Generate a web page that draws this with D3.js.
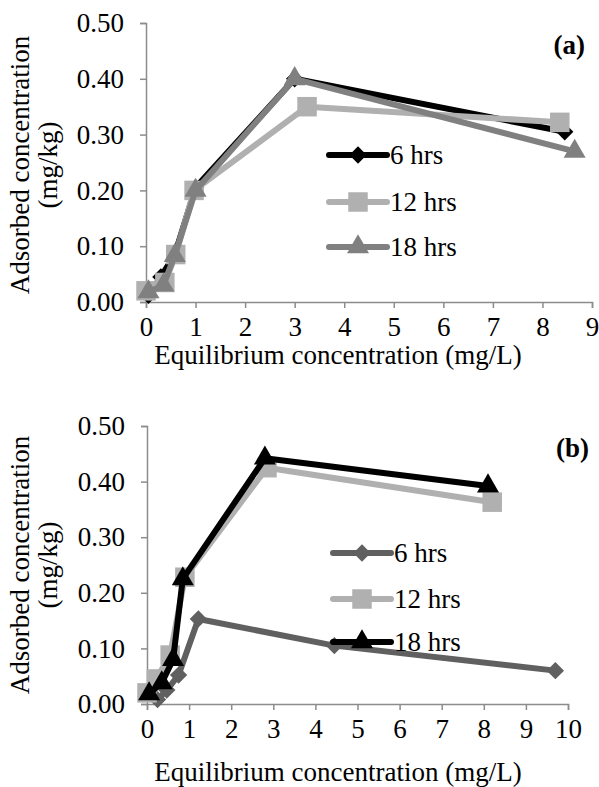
<!DOCTYPE html>
<html>
<head>
<meta charset="utf-8">
<script src="https://cdn.jsdelivr.net/npm/d3@7"></script>
</head>
<body style="margin:0">
<script>
const W = 599, H = 787;
const FONT = '"Liberation Serif"';

// series names
const seriesNames = ["6 hrs", "12 hrs", "18 hrs"];

// panel (a) data: [x, y]
const a6 = [[0.05, 0.012], [0.3, 0.045], [0.58, 0.085], [1.0, 0.205], [3.0, 0.40], [8.45, 0.305]];
const a12 = [[0.0, 0.02], [0.38, 0.035], [0.6, 0.085], [0.97, 0.20], [3.25, 0.35], [8.35, 0.322]];
const a18 = [[0.05, 0.018], [0.35, 0.03], [0.58, 0.083], [1.0, 0.20], [3.0, 0.40], [8.65, 0.27]];

// panel (b) data: [x, y]
const b6 = [[0.25, 0.008], [0.47, 0.025], [0.75, 0.052], [1.22, 0.153], [4.45, 0.105], [9.7, 0.06]];
const b12 = [[0.0, 0.02], [0.22, 0.045], [0.55, 0.088], [0.9, 0.228], [2.85, 0.425], [8.2, 0.363]];
const b18 = [[0.05, 0.018], [0.35, 0.038], [0.62, 0.08], [0.85, 0.225], [2.8, 0.442], [8.1, 0.392]];

const yTicks = [0, 0.1, 0.2, 0.3, 0.4, 0.5];
const xTicksA = d3.range(0, 10);
const xTicksB = d3.range(0, 11);

const svg = d3.select("body").append("svg")
  .attr("width", W).attr("height", H);

function symbolPath(shape, size) {
  const t = shape === "square" || shape === "diamond" ? d3.symbolSquare : d3.symbolTriangle;
  return d3.symbol().type(t).size(size)();
}
// diamonds are squares turned 45 degrees
const rot = shape => shape === "diamond" ? " rotate(45)" : "";

function panel(opt) {
  const x = d3.scaleLinear().domain([0, opt.xMax]).range([opt.x0, opt.x1]);
  const y = d3.scaleLinear().domain([0, 0.5]).range([opt.y0, opt.y1]);

  const g = svg.append("g");

  // x axis
  const gx = g.append("g")
    .attr("transform", `translate(0,${opt.y0})`)
    .call(d3.axisBottom(x).tickValues(opt.xTicks).tickSize(6).tickPadding(opt.xPad).tickFormat(d3.format("d")));
  // y axis
  const gy = g.append("g")
    .attr("transform", `translate(${opt.x0},0)`)
    .call(d3.axisLeft(y).tickValues(yTicks).tickSize(6).tickPadding(16).tickFormat(d3.format(".2f")));

  [gx, gy].forEach(a => {
    a.attr("font-family", null).attr("font-size", null);
    a.select(".domain").attr("stroke", "#8c8c8c").attr("stroke-width", 1.5);
    a.selectAll(".tick line").attr("stroke", "#8c8c8c").attr("stroke-width", 1.5);
    a.selectAll(".tick text")
      .attr("fill", "#000")
      .attr("font-size", 27)
      .style("font-family", FONT);
  });

  // axis titles
  g.append("text")
    .attr("x", opt.xTitleX).attr("y", opt.xTitleY)
    .attr("text-anchor", "middle")
    .attr("font-size", 27)
    .style("font-family", FONT)
    .text("Equilibrium concentration (mg/L)");

  const yt = g.append("text")
    .attr("transform", `translate(${opt.yTitleX},${opt.yTitleY}) rotate(-90)`)
    .attr("text-anchor", "middle")
    .attr("font-size", 27)
    .style("font-family", FONT);
  yt.append("tspan").attr("x", 0).attr("dy", 0).text("Adsorbed concentration");
  yt.append("tspan").attr("x", 0).attr("dy", 28).text("(mg/kg)");

  // panel label
  g.append("text")
    .attr("x", opt.labelX).attr("y", opt.labelY)
    .attr("text-anchor", "end")
    .attr("font-size", 27)
    .attr("font-weight", "bold")
    .style("font-family", FONT)
    .text(opt.label);

  const line = d3.line().x(d => x(d[0])).y(d => y(d[1]));

  opt.series.forEach(s => {
    g.append("path")
      .datum(s.data)
      .attr("d", line)
      .attr("fill", "none")
      .attr("stroke", s.color)
      .attr("stroke-width", 6)
      .attr("stroke-linejoin", "round");
    g.selectAll(null)
      .data(s.data)
      .enter()
      .append("path")
      .attr("d", symbolPath(s.shape, s.size))
      .attr("transform", d => `translate(${x(d[0])},${y(d[1])})${rot(s.shape)}`)
      .attr("fill", s.color);
  });

  // legend
  opt.series.forEach((s, i) => {
    const ly = opt.legY[i];
    g.append("line")
      .attr("x1", opt.legX).attr("x2", opt.legX + 58)
      .attr("y1", ly).attr("y2", ly)
      .attr("stroke", s.color).attr("stroke-width", 6)
      .attr("stroke-linecap", "round");
    g.append("path")
      .attr("d", symbolPath(s.shape, s.size))
      .attr("transform", `translate(${opt.legX + 29},${ly})${rot(s.shape)}`)
      .attr("fill", s.color);
    g.append("text")
      .attr("x", opt.legX + 61).attr("y", ly + 9)
      .attr("font-size", 27)
      .style("font-family", FONT)
      .text(seriesNames[i]);
  });
}

panel({
  xMax: 9, xTicks: xTicksA, xPad: 9,
  x0: 146, x1: 592, y0: 302, y1: 23,
  xTitleX: 338, xTitleY: 364,
  yTitleX: 29, yTitleY: 165,
  label: "(a)", labelX: 585, labelY: 54,
  legX: 329, legY: [155, 202, 247],
  series: [
    { data: a6, color: "#000000", shape: "diamond", size: 150 },
    { data: a12, color: "#b0b0b0", shape: "square", size: 380 },
    { data: a18, color: "#808080", shape: "triangle", size: 210 }
  ]
});

panel({
  xMax: 10, xTicks: xTicksB, xPad: 9,
  x0: 147, x1: 568, y0: 704, y1: 426,
  xTitleX: 338, xTitleY: 781,
  yTitleX: 29, yTitleY: 565,
  label: "(b)", labelX: 589, labelY: 457,
  legX: 333, legY: [553, 599, 642],
  series: [
    { data: b6, color: "#606060", shape: "diamond", size: 150 },
    { data: b12, color: "#b0b0b0", shape: "square", size: 380 },
    { data: b18, color: "#000000", shape: "triangle", size: 210 }
  ]
});
</script>
</body>
</html>
